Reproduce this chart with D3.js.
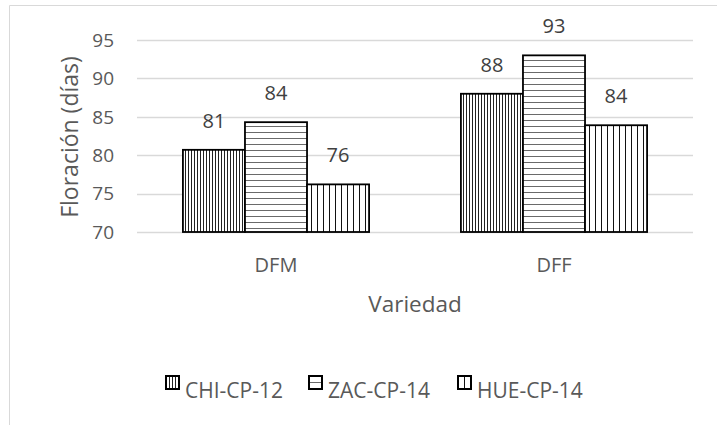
<!DOCTYPE html>
<html>
<head>
<meta charset="utf-8">
<script src="https://cdn.jsdelivr.net/npm/d3@7"></script>
<style>
  html, body { margin: 0; padding: 0; background: #fff; }
  svg { display: block; font-family: "Open Sans", "Noto Sans", sans-serif; }
</style>
</head>
<body>
<div class="app"></div>
<script>
// Data
const categories = ['DFM', 'DFF'];
const seriesNames = ['CHI-CP-12', 'ZAC-CP-14', 'HUE-CP-14'];
const chiValues = [80.7, 88.0];
const zacValues = [84.3, 93.0];
const hueValues = [76.2, 83.9];
const yTicks = [70, 75, 80, 85, 90, 95];

const seriesValues = [chiValues, zacValues, hueValues];
const patternIds = ['pat-chi', 'pat-zac', 'pat-hue'];

// Setup
const width = 717;
const height = 425;

const svg = d3.select('.app')
  .append('svg')
  .attr('width', width)
  .attr('height', height)
  .attr('viewBox', [0, 0, width, height]);

const defs = svg.append('defs');

// hatch fills
const chiPat = defs.append('pattern')
  .attr('id', 'pat-chi')
  .attr('patternUnits', 'userSpaceOnUse')
  .attr('width', 3).attr('height', 3);
chiPat.append('rect').attr('width', 3).attr('height', 3).attr('fill', '#fff');
chiPat.append('rect').attr('x', 0).attr('width', 1).attr('height', 3).attr('fill', '#222');

const zacPat = defs.append('pattern')
  .attr('id', 'pat-zac')
  .attr('patternUnits', 'userSpaceOnUse')
  .attr('width', 6).attr('height', 6);
zacPat.append('rect').attr('width', 6).attr('height', 6).attr('fill', '#fff');
zacPat.append('rect').attr('y', 0).attr('width', 6).attr('height', 1).attr('fill', '#6a6a6a');

const huePat = defs.append('pattern')
  .attr('id', 'pat-hue')
  .attr('patternUnits', 'userSpaceOnUse')
  .attr('width', 6).attr('height', 6);
huePat.append('rect').attr('width', 6).attr('height', 6).attr('fill', '#fff');
huePat.append('rect').attr('x', 0).attr('width', 1).attr('height', 6).attr('fill', '#111');

// chart frame
svg.append('path')
  .attr('d', `M9.5,${height} V5.5 H${width}`)
  .attr('fill', 'none')
  .attr('stroke', '#d9d9d9')
  .attr('stroke-width', 1);

// Scales
const plot = { left: 137, right: 693, top: 40, bottom: 232 };

const y = d3.scaleLinear()
  .domain([70, 95])
  .range([plot.bottom, plot.top]);

const x0 = d3.scaleBand()
  .domain(categories)
  .range([plot.left, plot.right]);

const x1 = d3.scaleBand()
  .domain(seriesNames)
  .range([0, x0.bandwidth()])
  .paddingInner(0)
  .paddingOuter(0.74);

// Grid
svg.append('g')
  .selectAll('line')
  .data(yTicks)
  .join('line')
  .attr('x1', plot.left)
  .attr('x2', plot.right)
  .attr('y1', d => Math.round(y(d)) + 0.5)
  .attr('y2', d => Math.round(y(d)) + 0.5)
  .attr('stroke', '#d9d9d9')
  .attr('stroke-width', 1.3);

// Y axis labels
svg.append('g')
  .attr('font-size', 19)
  .attr('fill', '#595959')
  .attr('text-anchor', 'end')
  .selectAll('text')
  .data(yTicks)
  .join('text')
  .attr('x', 114)
  .attr('y', d => y(d))
  .attr('dy', '0.36em')
  .text(d => d);

svg.append('text')
  .attr('transform', `translate(78,${(plot.top + plot.bottom) / 2 + 1}) rotate(-90)`)
  .attr('text-anchor', 'middle')
  .attr('font-size', 23)
  .attr('fill', '#595959')
  .text('Floración (días)');

// Bars
const groups = svg.append('g')
  .selectAll('g')
  .data(categories)
  .join('g')
  .attr('transform', d => `translate(${x0(d)},0)`);

groups.selectAll('rect')
  .data((c, ci) => seriesNames.map((s, si) => ({ s, si, v: seriesValues[si][ci] })))
  .join('rect')
  .attr('x', d => x1(d.s))
  .attr('y', d => y(d.v))
  .attr('width', x1.bandwidth())
  .attr('height', d => y(70) - y(d.v))
  .attr('fill', d => `url(#${patternIds[d.si]})`)
  .attr('stroke', '#000')
  .attr('stroke-width', 1.8);

groups.selectAll('text')
  .data((c, ci) => seriesNames.map((s, si) => ({ s, si, v: seriesValues[si][ci] })))
  .join('text')
  .attr('x', d => x1(d.s) + x1.bandwidth() / 2)
  .attr('y', d => y(d.v) - 22)
  .attr('text-anchor', 'middle')
  .attr('font-size', 20)
  .attr('fill', '#404040')
  .text(d => Math.round(d.v));

// X axis labels
svg.append('g')
  .attr('font-size', 20)
  .attr('fill', '#595959')
  .attr('text-anchor', 'middle')
  .selectAll('text')
  .data(categories)
  .join('text')
  .attr('x', d => x0(d) + x0.bandwidth() / 2)
  .attr('y', 272)
  .text(d => d);

svg.append('text')
  .attr('x', (plot.left + plot.right) / 2)
  .attr('y', 312)
  .attr('text-anchor', 'middle')
  .attr('font-size', 22.5)
  .attr('fill', '#595959')
  .text('Variedad');

// Legend
const legendX = [166, 309, 458];
const legend = svg.append('g')
  .selectAll('g')
  .data(seriesNames)
  .join('g')
  .attr('transform', (d, i) => `translate(${legendX[i]},376)`);

legend.append('rect')
  .attr('width', 13)
  .attr('height', 13)
  .attr('fill', (d, i) => `url(#${patternIds[i]})`)
  .attr('stroke', '#000')
  .attr('stroke-width', 2);

legend.append('text')
  .attr('x', 19)
  .attr('y', 22)
  .attr('font-size', 21)
  .attr('fill', '#595959')
  .text(d => d);
</script>
</body>
</html>
